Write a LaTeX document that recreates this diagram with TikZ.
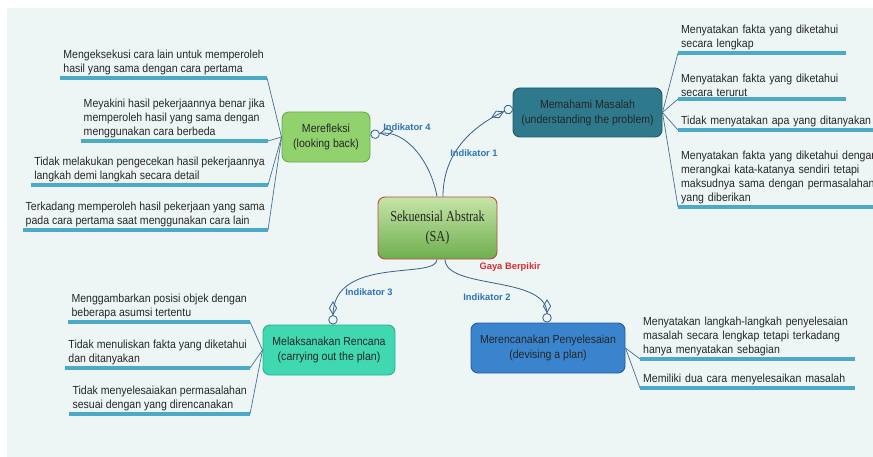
\documentclass[tikz,border=0pt]{standalone}
\usepackage{fontspec}
\usepackage{tikz}
\usetikzlibrary{arrows.meta}
\usetikzlibrary{calc,shapes}
\newfontfamily\leaffont[FakeStretch=0.9]{Liberation Sans}
\newfontfamily\sefont[FakeStretch=0.8]{Liberation Serif}
\newfontfamily\labfont{Liberation Sans}
\definecolor{bgcol}{RGB}{238,245,245}
\definecolor{ulblue}{RGB}{75,170,200}
\definecolor{brblue}{RGB}{70,115,150}
\definecolor{lkblue}{RGB}{55,100,140}
\definecolor{indblue}{RGB}{46,117,182}
\definecolor{gayared}{RGB}{215,45,50}
\definecolor{sagreenA}{RGB}{198,229,168}
\definecolor{sagreenB}{RGB}{110,174,78}
\definecolor{sared}{RGB}{185,75,70}
\definecolor{mmfill}{RGB}{46,122,140}
\definecolor{mmdraw}{RGB}{28,88,104}
\definecolor{mrfill}{RGB}{146,210,110}
\definecolor{mrdraw}{RGB}{105,170,78}
\definecolor{mlfill}{RGB}{64,216,176}
\definecolor{mldraw}{RGB}{38,178,142}
\definecolor{mpfill}{RGB}{58,132,206}
\definecolor{mpdraw}{RGB}{38,92,158}

\begin{document}
\begin{tikzpicture}[x=0.03cm,y=0.03cm,
	topic/.style={draw,rounded corners=6pt,align=center,line width=0.8pt,text=black!85,
		font=\leaffont\fontsize{10}{12.8}\selectfont,minimum height=1.5cm},
	leaf/.style={align=left,inner xsep=2.5pt,inner ysep=2pt,text=black!85,
		font=\leaffont\fontsize{10}{12}\selectfont},
	uline/.style={ulblue,line width=3pt},
	branch/.style={brblue,line width=0.6pt},
	link/.style={lkblue,line width=0.7pt,
		-{Diamond[open,length=12pt,width=7pt]Circle[open,length=8pt]}},
	indlabel/.style={text=indblue,font=\labfont\bfseries\fontsize{8}{9}\selectfont}]
			\useasboundingbox (0,0) rectangle (873,-457);
			\fill [bgcol] (7,-8) rectangle (873,-457);
			% centre and the four stages
			\node [topic,shade,top color=sagreenA,bottom color=sagreenB,draw=sared,
				minimum width=3.57cm,minimum height=1.86cm,
				font=\sefont\fontsize{13}{17}\selectfont] (sa) at (437.5,-228) {Sekuensial Abstrak\\(SA)};
			\node [topic,fill=mmfill,draw=mmdraw,minimum width=4.47cm,minimum height=1.47cm] (mm) at (587.5,-112.5) {Memahami Masalah\\(understanding the problem)};
			\node [topic,fill=mrfill,draw=mrdraw,minimum width=2.64cm] (mr) at (326,-137) {Merefleksi\\(looking back)};
			\node [topic,fill=mlfill,draw=mldraw,minimum width=3.96cm] (ml) at (329,-350) {Melaksanakan Rencana\\(carrying out the plan)};
			\node [topic,fill=mpfill,draw=mpdraw,minimum width=4.62cm] (mp) at (548,-348) {Merencanakan Penyelesaian\\(devising a plan)};
			\draw [link] ($(sa.north)+(5.5,0)$) to[out=90,in=205] ($(mm.west)+(0,5)$);
			\draw [link] ($(sa.north)+(-0.5,0)$) to[out=100,in=10] ($(mr.east)+(0,2)$);
			\draw [link] ($(sa.south)+(-0.5,0)$) .. controls (437,-280) and (333,-255) .. ($(ml.north)+(4,0)$);
			\draw [link] ($(sa.south)+(7.5,0)$) .. controls (446,-290) and (547,-275) .. ($(mp.north)+(-1,0)$);
			\node [indlabel] (ind1) at (474,-153) {Indikator 1};
			\node [indlabel] (ind2) at (487,-297) {Indikator 2};
			\node [indlabel] (ind3) at (369,-292) {Indikator 3};
			\node [indlabel] (ind4) at (407,-127) {Indikator 4};
			\node [indlabel,text=gayared] (gaya) at (510,-267) {Gaya Berpikir};
			% Memahami Masalah
			\node [leaf,anchor=south west,text width=4.84cm] (m1) at (678,-53) {Menyatakan fakta yang diketahui\\secara lengkap};
			\node [leaf,anchor=south west,text width=4.84cm] (m2) at (678,-99) {Menyatakan fakta yang diketahui\\secara terurut};
			\node [leaf,anchor=south west,text width=6.5cm] (m3) at (678,-130) {Tidak menyatakan apa yang ditanyakan};
			\node [leaf,anchor=south west,text width=6.5cm] (m4) at (678,-207) {Menyatakan fakta yang diketahui dengan\\merangkai kata-katanya sendiri tetapi\\maksudnya sama dengan permasalahan\\yang diberikan};
			\foreach \l in {m1,m2,m3,m4}{
				\draw [uline] (\l.south west) -- (\l.south east);
				\draw [branch] (mm.east) -- (\l.south west);
			}
			% Merefleksi
			\node [leaf,anchor=south east] (r1) at (267,-78) {Mengeksekusi cara lain untuk memperoleh\\hasil yang sama dengan cara pertama};
			\node [leaf,anchor=south east] (r2) at (268,-141) {Meyakini hasil pekerjaannya benar jika\\memperoleh hasil yang sama dengan\\menggunakan cara berbeda};
			\node [leaf,anchor=south east] (r3) at (268,-185) {Tidak melakukan pengecekan hasil pekerjaannya\\langkah demi langkah secara detail};
			\node [leaf,anchor=south east] (r4) at (268,-230) {Terkadang memperoleh hasil pekerjaan yang sama\\pada cara pertama saat menggunakan cara lain};
			\foreach \l in {r1,r2,r3,r4}{
				\draw [uline] (\l.south west) -- (\l.south east);
				\draw [branch] (mr.west) -- (\l.south east);
			}
			% Melaksanakan Rencana
			\node [leaf,anchor=south east] (l1) at (250,-322) {Menggambarkan posisi objek dengan\\beberapa asumsi tertentu};
			\node [leaf,anchor=south east] (l2) at (250,-368) {Tidak menuliskan fakta yang diketahui\\dan ditanyakan};
			\node [leaf,anchor=south east] (l3) at (250,-414) {Tidak menyelesaiakan permasalahan\\sesuai dengan yang direncanakan};
			\foreach \l in {l1,l2,l3}{
				\draw [uline] (\l.south west) -- (\l.south east);
				\draw [branch] (ml.west) -- (\l.south east);
			}
			% Merencanakan Penyelesaian
			\node [leaf,anchor=south west,text width=6.27cm] (p1) at (640,-359) {Menyatakan langkah-langkah penyelesaian\\masalah secara lengkap tetapi terkadang\\hanya menyatakan sebagian};
			\node [leaf,anchor=south west,text width=6.27cm] (p2) at (640,-388) {Memiliki dua cara menyelesaikan masalah};
			\foreach \l in {p1,p2}{
				\draw [uline] (\l.south west) -- (\l.south east);
				\draw [branch] (mp.east) -- (\l.south west);
			}
			\end{tikzpicture}
\end{document}
